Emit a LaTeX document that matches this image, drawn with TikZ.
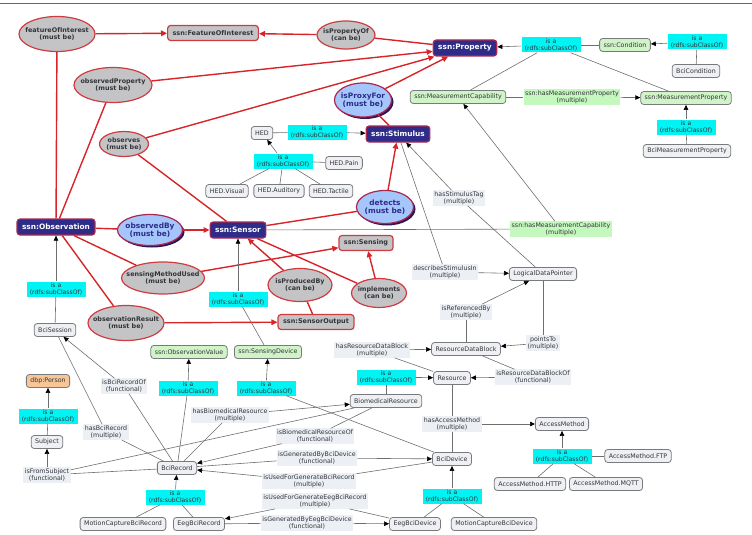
\documentclass[tikz,border=0pt]{standalone}
\usepackage{fontspec}
\setmainfont{DejaVu Sans}
\usetikzlibrary{shapes.geometric,arrows.meta,shadows}

\definecolor{rline}{RGB}{214,36,40}
\definecolor{rdraw}{RGB}{206,60,66}
\definecolor{ellfill}{RGB}{196,196,198}
\definecolor{blfill}{RGB}{164,198,250}
\definecolor{bldraw}{RGB}{170,40,80}
\definecolor{blshadow}{RGB}{50,20,80}
\definecolor{ssnfill}{RGB}{46,44,136}
\definecolor{clsfill}{RGB}{238,240,243}
\definecolor{clsdraw}{RGB}{120,122,126}
\definecolor{grnfill}{RGB}{208,244,200}
\definecolor{orgfill}{RGB}{248,198,150}
\definecolor{isafill}{RGB}{0,244,244}
\definecolor{lnkfill}{RGB}{236,240,245}
\definecolor{glnkfill}{RGB}{196,248,190}
\definecolor{txt}{RGB}{50,52,56}
\definecolor{gline}{RGB}{110,110,110}

\newcommand{\isatext}{is a\\(rdfs:subClassOf)}

\tikzset{
  rell/.style 2 args={ellipse, draw=rdraw, fill=ellfill, line width=1.2pt, text=txt,
    font=\bfseries\fontsize{6.4}{7.6}\selectfont, align=center,
    inner xsep=-40pt, inner ysep=0pt, minimum width=#1, minimum height=#2},
  bell/.style 2 args={ellipse, draw=bldraw, fill=blfill, line width=1.2pt, text=ssnfill,
    font=\bfseries\fontsize{7.4}{8.6}\selectfont, align=center,
    inner xsep=-40pt, inner ysep=0pt, minimum width=#1, minimum height=#2,
    drop shadow={fill=blshadow, opacity=1, shadow xshift=2pt, shadow yshift=-2pt}},
  ssn/.style={rectangle, rounded corners=3pt, draw=bldraw, fill=ssnfill, line width=1.2pt,
    text=white, font=\bfseries\fontsize{7.4}{8}\selectfont, minimum height=16pt,
    inner xsep=5pt, inner ysep=1pt},
  rbox/.style={rectangle, rounded corners=3pt, draw=rdraw, fill=ellfill, line width=1.2pt,
    text=txt, font=\bfseries\fontsize{6.5}{7}\selectfont, minimum height=15pt, inner xsep=5pt},
  cls/.style={rectangle, rounded corners=3pt, draw=clsdraw, fill=clsfill, line width=0.8pt,
    text=txt, font=\fontsize{6.3}{7}\selectfont, minimum height=13pt,
    inner xsep=4pt, inner ysep=1pt},
  grn/.style={cls, fill=grnfill},
  org/.style={cls, fill=orgfill},
  isa/.style={rectangle, fill=isafill, text=txt, font=\fontsize{6.1}{6.8}\selectfont,
    align=center, inner sep=0.5pt, minimum width=59pt, minimum height=15pt},
  lnk/.style={rectangle, fill=lnkfill, text=txt, font=\fontsize{6.3}{7.4}\selectfont,
    align=center, inner xsep=1.5pt, inner ysep=1pt},
  glnk/.style={lnk, fill=glnkfill},
  gl/.style={draw=gline, line width=0.6pt},
  ga/.style={gl, -{Triangle[length=5pt,width=4.5pt,color=black]}},
  rl/.style={draw=rline, line width=1.4pt},
  ra/.style={rl, -{Triangle[length=6pt,width=5.5pt]}},
}

\begin{document}
\begin{tikzpicture}[x=1pt,y=-1pt]
\useasboundingbox (0,0) rectangle (752,535);
\draw[gray!80!black, line width=1pt] (0,4) -- (752,4);

% ssn concepts
\node[ssn] (prop) at (465,48) {ssn:Property};
\node[ssn] (stim) at (398,134) {ssn:Stimulus};
\node[ssn] (obsn) at (56,227) {ssn:Observation};
\node[ssn] (sens) at (238,230) {ssn:Sensor};
\node[rbox] (foiC) at (213,33) {ssn:FeatureOfInterest};
\node[rbox] (sensing) at (366,243) {ssn:Sensing};
\node[rbox] (sout) at (316,322) {ssn:SensorOutput};

\node[rell={76pt}{35pt}] (foi) at (57,34) {featureOfInterest\\(must be)};
\node[rell={58pt}{28pt}] (ipo) at (346,35) {isPropertyOf\\(can be)};
\node[rell={78pt}{35pt}] (obp) at (113,85) {observedProperty\\(must be)};
\node[rell={49pt}{25pt}] (obs) at (124,144) {observes\\(must be)};
\node[rell={83pt}{32pt}] (smu) at (163,278) {sensingMethodUsed\\(must be)};
\node[rell={76pt}{35pt}] (ores) at (126,323) {observationResult\\(must be)};
\node[rell={64pt}{33pt}] (ipb) at (300,285) {isProducedBy\\(can be)};
\node[rell={55pt}{29pt}] (impl) at (379,293) {implements\\(can be)};

\node[bell={65pt}{31pt}] (oby) at (150,230) {observedBy\\(must be)};
\node[bell={57pt}{34pt}] (ipf) at (363,100) {isProxyFor\\(must be)};
\node[bell={57pt}{33pt}] (det) at (385,207) {detects\\(must be)};

% properties
\node[grn] (cond) at (625,45) {ssn:Condition};
\node[grn] (mcap) at (458,97) {ssn:MeasurementCapability};
\node[grn] (mprop) at (686,98) {ssn:MeasurementProperty};
\node[cls] (bcicond) at (696,71) {BciCondition};
\node[cls] (bcimp) at (687,151) {BciMeasurementProperty};
\node[isa] (isaP) at (551,45) {\isatext};
\node[isa] (isaBC) at (697,42) {\isatext};
\node[isa] (isaBMP) at (686,127) {\isatext};
\node[glnk] (hmp) at (572,97) {ssn:hasMeasurementProperty\\(multiple)};
\node[glnk] (hmc) at (561,229) {ssn:hasMeasurementCapability\\(multiple)};

% stimulus tags
\node[cls] (hed) at (262,133) {HED};
\node[isa] (isaHS) at (317,132) {\isatext};
\node[isa] (isaHED) at (283,161) {\isatext};
\node[cls] (hedpain) at (344,163) {HED.Pain};
\node[cls] (hedvis) at (227,191) {HED.Visual};
\node[cls] (hedaud) at (279,191) {HED.Auditory};
\node[cls] (hedtac) at (331,191) {HED.Tactile};

% data pointers and resources
\node[lnk] (hst) at (459,198) {hasStimulusTag\\(multiple)};
\node[lnk] (dsi) at (445,272) {describesStimulusIn\\(multiple)};
\node[cls] (ldp) at (543,274) {LogicalDataPointer};
\node[lnk] (irb) at (466,312) {isReferencedBy\\(multiple)};
\node[lnk] (pto) at (543,343) {pointsTo\\(multiple)};
\node[cls] (rdb) at (466,349) {ResourceDataBlock};
\node[lnk] (hrdb) at (372,350) {hasResourceDataBlock\\(multiple)};
\node[lnk] (irdbo) at (533,377) {isResourceDataBlockOf\\(functional)};
\node[cls] (res) at (452,378) {Resource};
\node[isa] (isaBR) at (386,377) {\isatext};
\node[cls] (biomed) at (386,401) {BiomedicalResource};
\node[lnk] (ham) at (452,424) {hasAccessMethod\\(multiple)};
\node[cls] (accm) at (562,424) {AccessMethod};
\node[isa] (isaAM) at (562,456) {\isatext};
\node[cls] (ftp) at (638,456) {AccessMethod.FTP};
\node[cls] (http) at (530,484) {AccessMethod.HTTP};
\node[cls] (mqtt) at (606,484) {AccessMethod.MQTT};
\node[cls] (bcidev) at (452,459) {BciDevice};
\node[isa] (isaBD) at (452,496) {\isatext};
\node[cls] (eegdev) at (415,524) {EegBciDevice};
\node[cls] (mcdev) at (494,524) {MotionCaptureBciDevice};

% sessions and records
\node[cls] (bcises) at (55,330) {BciSession};
\node[isa] (isaSes) at (56,289) {\isatext};
\node[org] (person) at (48,381) {dbp:Person};
\node[isa] (isaPer) at (48,416) {\isatext};
\node[cls] (subj) at (47,442) {Subject};
\node[lnk] (ifs) at (47,475) {isFromSubject\\(functional)};
\node[lnk] (ibro) at (124,386) {isBciRecordOf\\(functional)};
\node[lnk] (hbr) at (106,432) {hasBciRecord\\(multiple)};
\node[cls] (bcirec) at (177,468) {BciRecord};
\node[isa] (isaBRec) at (175,497) {\isatext};
\node[cls] (mcrec) at (123,524) {MotionCaptureBciRecord};
\node[cls] (eegrec) at (199,524) {EegBciRecord};
\node[grn] (ovalue) at (189,352) {ssn:ObservationValue};
\node[grn] (sdev) at (268,352) {ssn:SensingDevice};
\node[isa] (isaOV) at (188,388) {\isatext};
\node[isa] (isaSDv) at (266,388) {\isatext};
\node[isa] (isaSD) at (238,299) {\isatext};
\node[lnk] (hbmr) at (230,415) {hasBiomedicalResource\\(multiple)};
\node[lnk] (ibmro) at (315,436) {isBiomedicalResourceOf\\(functional)};
\node[lnk] (igbbd) at (317,458) {isGeneratedByBciDevice\\(functional)};
\node[lnk] (iufgbr) at (309,481) {isUsedForGenerateBciRecord\\(multiple)};
\node[lnk] (iufger) at (315,501) {isUsedForGenerateEegBciRecord\\(multiple)};
\node[lnk] (igbed) at (307,523) {isGeneratedByEegBciDevice\\(functional)};

% red links
\draw[ra] (foi) -- (foiC);
\draw[ra] (ipo) -- (foiC);
\draw[rl] (prop) -- (ipo);
\draw[rl] (obsn) -- (foi);
\draw[rl] (obsn) -- (obp);
\draw[ra] (obp) -- (prop);
\draw[rl] (sens) -- (obs);
\draw[ra] (obs) -- (prop);
\draw[rl] (obsn) -- (oby);
\draw[ra] (oby) -- (sens);
\draw[rl] (obsn) -- (smu);
\draw[ra] (smu) -- (sensing);
\draw[rl] (obsn) -- (ores);
\draw[ra] (ores) -- (sout);
\draw[rl] (sens) -- (det);
\draw[ra] (det) -- (stim);
\draw[rl] (stim) -- (ipf);
\draw[ra] (ipf) -- (prop);
\draw[rl] (sens) -- (impl);
\draw[ra] (impl) -- (sensing);
\draw[rl] (sout) -- (ipb);
\draw[ra] (ipb) -- (sens);

% grey links
\draw[gl] (cond) -- (isaP);
\draw[gl] (mcap) -- (isaP);
\draw[gl] (mprop) -- (isaP);
\draw[ga] (isaP) -- (prop);
\draw[gl] (bcicond) -- (isaBC);
\draw[ga] (isaBC) -- (cond);
\draw[gl] (bcimp) -- (isaBMP);
\draw[ga] (isaBMP) -- (mprop);
\draw[gl] (mcap) -- (hmp);
\draw[ga] (hmp) -- (mprop);
\draw[gl] (sens) -- (hmc);
\draw[ga] (hmc) -- (mcap);
\draw[gl] (hed) -- (isaHS);
\draw[ga] (isaHS) -- (stim);
\draw[gl] (hedpain) -- (isaHED);
\draw[gl] (hedvis) -- (isaHED);
\draw[gl] (hedaud) -- (isaHED);
\draw[gl] (hedtac) -- (isaHED);
\draw[ga] (isaHED) -- (hed);
\draw[gl] (ldp) -- (hst);
\draw[ga] (hst) -- (stim);
\draw[gl] (stim) -- (dsi);
\draw[ga] (dsi) -- (ldp);
\draw[gl] (ldp) -- (pto);
\draw[ga] (pto) -- (rdb);
\draw[gl] (rdb) -- (irb);
\draw[ga] (irb) -- (ldp);
\draw[gl] (res) -- (hrdb);
\draw[ga] (hrdb) -- (rdb);
\draw[gl] (rdb) -- (irdbo);
\draw[ga] (irdbo) -- (res);
\draw[gl] (biomed) -- (isaBR);
\draw[ga] (isaBR) -- (res);
\draw[gl] (res) -- (ham);
\draw[gl] (bcidev) -- (ham);
\draw[ga] (ham) -- (accm);
\draw[gl] (ftp) -- (isaAM);
\draw[gl] (http) -- (isaAM);
\draw[gl] (mqtt) -- (isaAM);
\draw[ga] (isaAM) -- (accm);
\draw[gl] (eegdev) -- (isaBD);
\draw[gl] (mcdev) -- (isaBD);
\draw[ga] (isaBD) -- (bcidev);
\draw[gl] (mcrec) -- (isaBRec);
\draw[gl] (eegrec) -- (isaBRec);
\draw[ga] (isaBRec) -- (bcirec);
\draw[gl] (bcidev) -- (isaSDv);
\draw[ga] (isaSDv) -- (sdev);
\draw[gl] (bcirec) -- (isaOV);
\draw[ga] (isaOV) -- (ovalue);
\draw[gl] (sdev) -- (isaSD);
\draw[ga] (isaSD) -- (sens);
\draw[gl] (bcises) -- (isaSes);
\draw[ga] (isaSes) -- (obsn);
\draw[gl] (subj) -- (isaPer);
\draw[ga] (isaPer) -- (person);
\draw[gl] (bcirec) -- (ifs);
\draw[gl] (biomed) -- (ifs);
\draw[ga] (ifs) -- (subj);
\draw[gl] (bcises) -- (hbr);
\draw[gl] (hbr) -- (bcirec);
\draw[gl] (bcirec) -- (ibro);
\draw[ga] (ibro) -- (bcises);
\draw[gl] (bcirec) -- (hbmr);
\draw[ga] (hbmr) -- (biomed);
\draw[gl] (biomed) -- (ibmro);
\draw[ga] (ibmro) -- (bcirec);
\draw[gl] (bcirec) -- (igbbd);
\draw[ga] (igbbd) -- (bcidev);
\draw[gl] (bcidev) -- (iufgbr);
\draw[ga] (iufgbr) -- (bcirec);
\draw[gl] (eegrec) -- (igbed);
\draw[ga] (igbed) -- (eegdev);
\draw[gl] (eegdev) -- (iufger);
\draw[ga] (iufger) -- (eegrec);
\end{tikzpicture}
\end{document}
